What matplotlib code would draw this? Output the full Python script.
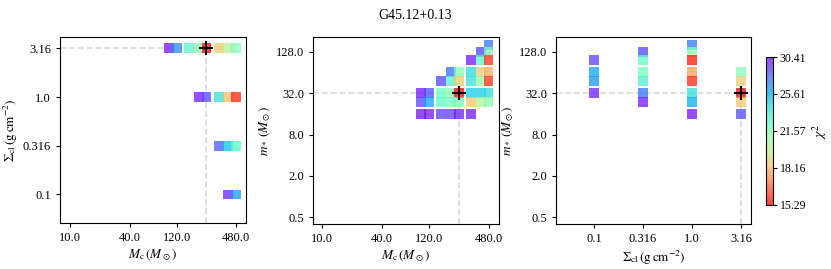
import numpy as np
import matplotlib
matplotlib.use('Agg')
import matplotlib.pyplot as plt
from matplotlib.colors import LogNorm

plt.rcParams['font.family'] = 'serif'
plt.rcParams['font.serif'] = ['Liberation Serif', 'DejaVu Serif']
plt.rcParams['mathtext.fontset'] = 'stix'

# --- data: visible grid cells of the chi^2 maps ---
# panel 1: Mc vs Sigma_cl
p1_mc = [100, 120, 160, 200, 240, 320, 400, 480,
         200, 240, 320, 400, 480,
         320, 400, 480,
         400, 480]
p1_sig = [3.16] * 8 + [1.0] * 5 + [0.316] * 3 + [0.1] * 2
p1_chi = [30.0, 26.8, 22.8, 21.0, 15.29, 18.6, 20.2, 21.5,
          29.8, 28.5, 24.0, 18.4, 15.8,
          28.2, 25.2, 22.6,
          29.5, 26.4]

# panel 2: Mc vs m_star
p2_mc = [480,
         400, 480,
         320, 400, 480,
         200, 240, 320, 400, 480,
         160, 200, 240, 320, 400, 480,
         100, 120, 160, 200, 240, 320, 400, 480,
         100, 120, 160, 200, 240, 320, 400, 480,
         100, 120, 160, 200, 240, 320]
p2_ms = ([160] + [128] * 2 + [96] * 3 + [64] * 5 + [48] * 6
         + [32] * 8 + [24] * 8 + [16] * 6)
p2_chi = [27.4,
          28.6, 21.6,
          29.8, 22.8, 15.9,
          27.5, 21.6, 24.3, 18.8, 18.0,
          28.6, 23.0, 18.7, 24.0, 21.0, 16.0,
          30.0, 28.4, 22.3, 21.5, 15.29, 24.8, 24.8, 24.2,
          28.6, 26.2, 22.6, 22.2, 22.0, 18.6, 20.2, 21.2,
          30.0, 29.8, 28.7, 28.9, 29.6, 29.9]

# panel 3: Sigma_cl vs m_star
p3_sig = [0.1] * 4 + [0.316] * 6 + [1.0] * 8 + [3.16] * 5
p3_ms = [96, 64, 48, 32,
         128, 96, 64, 48, 32, 24,
         160, 128, 96, 64, 48, 32, 24, 16,
         64, 48, 32, 24, 16]
p3_chi = [28.8, 26.0, 26.5, 29.6,
          28.6, 22.4, 22.0, 23.2, 27.4, 29.7,
          27.3, 21.3, 15.6, 17.8, 15.8, 24.0, 25.8, 30.0,
          21.5, 18.8, 15.29, 18.6, 28.5]

best_mc, best_sig, best_ms = 240, 3.16, 32
chi_min, chi_max = 15.29, 30.41
cbar_ticks = [15.29, 18.16, 21.57, 25.61, 30.41]

mc_ticks = [10, 40, 120, 480]
sig_ticks = [0.1, 0.316, 1.0, 3.16]
ms_ticks = [0.5, 2, 8, 32, 128]

fig = plt.figure(figsize=(8.31, 2.69), dpi=100)
ax1 = fig.add_axes([0.0722, 0.171, 0.224, 0.6915])
ax2 = fig.add_axes([0.3767, 0.167, 0.2238, 0.6955])
ax3 = fig.add_axes([0.669, 0.167, 0.2347, 0.6955])
cax = fig.add_axes([0.9218, 0.238, 0.0080, 0.550])

norm = LogNorm(vmin=chi_min, vmax=chi_max)
kw = dict(cmap='rainbow_r', norm=norm, marker='s', s=50,
          alpha=0.75, edgecolors='none', zorder=2)


def panel(ax, x, y, chi, bx, by, xlim, ylim, xt, yt, xl, yl):
    sc = ax.scatter(x, y, c=chi, **kw)
    ax.set_xscale('log')
    ax.set_yscale('log')
    ax.set_xlim(xlim)
    ax.set_ylim(ylim)
    ax.plot([xlim[0], bx], [by, by], ls='--', color='0.85', lw=1.2, zorder=1)
    ax.plot([bx, bx], [ylim[0], by], ls='--', color='0.85', lw=1.2, zorder=1)
    ax.plot(bx, by, marker='+', color='k', ms=10, mew=1.5, zorder=3)
    ax.set_xticks(xt)
    ax.set_xticklabels([str(float(v)) for v in xt])
    ax.set_yticks(yt)
    ax.set_yticklabels([str(float(v)) for v in yt])
    ax.minorticks_off()
    ax.tick_params(labelsize=9, length=3)
    ax.set_xlabel(xl, fontsize=9.5, labelpad=3)
    ax.set_ylabel(yl, fontsize=9.5, labelpad=2)
    return sc


panel(ax1, p1_mc, p1_sig, p1_chi, best_mc, best_sig, (7.9, 605), (0.051, 4.13),
      mc_ticks, sig_ticks, r'$M_{\rm c}\,(M_\odot)$',
      r'$\Sigma_{\rm cl}\,({\rm g\,cm^{-2}})$')
panel(ax2, p2_mc, p2_ms, p2_chi, best_mc, best_ms, (8.1, 612), (0.4, 209),
      mc_ticks, ms_ticks, r'$M_{\rm c}\,(M_\odot)$', r'$m_*\,(M_\odot)$')
sc = panel(ax3, p3_sig, p3_ms, p3_chi, best_sig, best_ms, (0.041, 4.0), (0.4, 209),
           sig_ticks, ms_ticks, r'$\Sigma_{\rm cl}\,({\rm g\,cm^{-2}})$',
           r'$m_*\,(M_\odot)$')

cbar = fig.colorbar(sc, cax=cax)
cbar.ax.minorticks_off()
cbar.set_ticks(cbar_ticks)
cbar.set_ticklabels([f'{v:.2f}' for v in cbar_ticks])
cbar.ax.tick_params(labelsize=8.5, length=3, pad=2)
cbar.set_label(r'$\chi^2$', fontsize=10, labelpad=3)

fig.suptitle('G45.12+0.13', x=0.5, y=0.965, fontsize=10)

fig.savefig('out.png', dpi=100)
